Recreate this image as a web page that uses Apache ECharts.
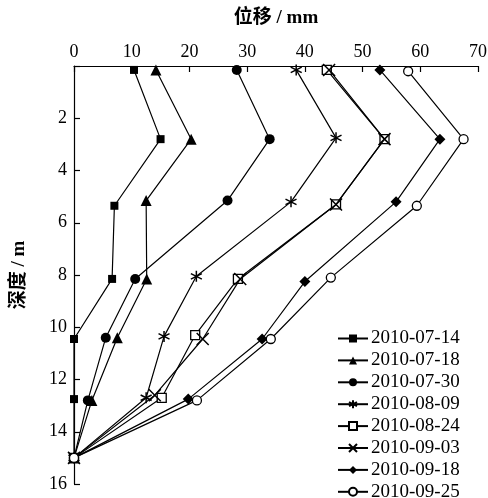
<!DOCTYPE html>
<html>
<head>
<meta charset="utf-8">
<script src="https://cdn.jsdelivr.net/npm/echarts@6/dist/echarts.min.js"></script>
<style>html,body{margin:0;padding:0;background:#fff}#c{width:488px;height:498px}</style>
</head>
<body>
<div id="c"></div>
<script>
// Series names (legend)
var seriesNames = ['2010-07-14','2010-07-18','2010-07-30','2010-08-09','2010-08-24','2010-09-03','2010-09-18','2010-09-25'];

// Displacement (mm) per measurement, top to bottom
var disp_0714 = [10.4, 15.0, 7.0, 6.6, 0, 0, 0];
var disp_0718 = [14.2, 20.3, 12.5, 12.6, 7.5, 3.1, 0];
var disp_0730 = [28.2, 33.9, 26.6, 10.6, 5.5, 2.4, 0];
var disp_0809 = [38.5, 45.4, 37.6, 21.2, 15.6, 12.5, 0];
var disp_0824 = [43.8, 53.8, 45.4, 28.4, 21.0, 15.2, 0];
var disp_0903 = [44.2, 53.8, 45.4, 28.8, 22.3, 14.0, 0];
var disp_0918 = [53.0, 63.4, 55.8, 40.0, 32.6, 19.8, 0];
var disp_0925 = [57.9, 67.5, 59.4, 44.5, 34.1, 21.3, 0];

// Depth (m) of each measurement point
var depth_0714 = [0.15, 2.8, 5.35, 8.15, 10.45, 12.75, 15];
var depth_0718 = [0.15, 2.8, 5.15, 8.15, 10.4, 12.8, 15];
var depth_0730 = [0.15, 2.8, 5.15, 8.15, 10.4, 12.8, 15];
var depth_0809 = [0.15, 2.75, 5.2, 8.05, 10.35, 12.7, 15];
var depth_0824 = [0.15, 2.8, 5.3, 8.15, 10.3, 12.7, 15];
var depth_0903 = [0.15, 2.8, 5.3, 8.15, 10.45, 12.6, 15];
var depth_0918 = [0.15, 2.8, 5.2, 8.25, 10.45, 12.75, 15];
var depth_0925 = [0.2, 2.8, 5.35, 8.1, 10.45, 12.8, 15];

// Axis ticks and titles
var xTicks = [0, 10, 20, 30, 40, 50, 60, 70];
var yTicks = [0, 2, 4, 6, 8, 10, 12, 14, 16];
var xTitle = '位移 / mm';
var yTitle = '深度 / m';

var dispList = [disp_0714, disp_0718, disp_0730, disp_0809, disp_0824, disp_0903, disp_0918, disp_0925];
var depthList = [depth_0714, depth_0718, depth_0730, depth_0809, depth_0824, depth_0903, depth_0918, depth_0925];

var asterisk = 'path://M5,0L5,10M0.7,2.5L9.3,7.5M0.7,7.5L9.3,2.5';
var cross = 'path://M0,1.5L10,8.5M0,8.5L10,1.5';
var styles = [
  {symbol:'rect', size:8, fill:'#000'},
  {symbol:'triangle', size:11, fill:'#000'},
  {symbol:'circle', size:10, fill:'#000'},
  {symbol:asterisk, size:11, fill:'none', bw:1.5},
  {symbol:'rect', size:9, fill:'#fff', bw:1.3},
  {symbol:cross, size:12, fill:'none', bw:1.5},
  {symbol:'diamond', size:11, fill:'#000'},
  {symbol:'circle', size:9, fill:'#fff', bw:1.3}
];

var serif = '"Liberation Serif","Times New Roman",serif';
var titleFont = '"Liberation Serif","Noto Sans CJK SC",serif';

var series = seriesNames.map(function(name, i){
  var st = styles[i];
  var data = dispList[i].map(function(v, k){ return [v, depthList[i][k]]; });
  return {
    name: name,
    type: 'line',
    data: data,
    symbol: st.symbol,
    symbolSize: st.size,
    showAllSymbol: true,
    lineStyle: {color:'#000', width:1.2},
    itemStyle: {color: st.fill, borderColor:'#000', borderWidth: st.bw || 0},
    emphasis: {disabled:true},
    animation: false,
    z: 2 + i
  };
});

var chart = echarts.init(document.getElementById('c'));
chart.setOption({
  backgroundColor: '#fff',
  animation: false,
  grid: {left: 74, right: 10, top: 66, bottom: 14, containLabel: false, outerBoundsMode: 'none'},
  xAxis: {
    type: 'value', position: 'top', min: xTicks[0], max: xTicks[xTicks.length-1], interval: 10,
    name: xTitle, nameLocation: 'middle', nameGap: 38,
    nameTextStyle: {color:'#000', fontFamily: titleFont, fontSize: 19, fontWeight: 'bold'},
    axisLine: {lineStyle: {color:'#000', width:1.2}},
    axisTick: {inside: true, length: 6, lineStyle:{color:'#000', width:1.2}},
    splitLine: {show:false},
    axisLabel: {color:'#000', fontFamily: serif, fontSize: 18, margin: 5}
  },
  yAxis: {
    type: 'value', inverse: true, min: yTicks[0], max: yTicks[yTicks.length-1], interval: 2,
    name: yTitle, nameLocation: 'middle', nameGap: 45, nameRotate: 90,
    nameTextStyle: {color:'#000', fontFamily: titleFont, fontSize: 19, fontWeight: 'bold'},
    axisLine: {lineStyle: {color:'#000', width:1.2}},
    axisTick: {inside: true, length: 6, lineStyle:{color:'#000', width:1.2}},
    splitLine: {show:false},
    axisLabel: {color:'#000', fontFamily: serif, fontSize: 18, margin: 7,
      formatter: function(v){ return v === 0 ? '' : String(v); }}
  },
  legend: {
    orient: 'vertical', left: 337, top: 329, height: 200, padding: 0,
    itemWidth: 30, itemHeight: 10, itemGap: 2.9,
    textStyle: {color:'#000', fontFamily: serif, fontSize: 19, padding:[0,0,0,-2]},
    data: seriesNames
  },
  series: series
});
</script>
</body>
</html>
